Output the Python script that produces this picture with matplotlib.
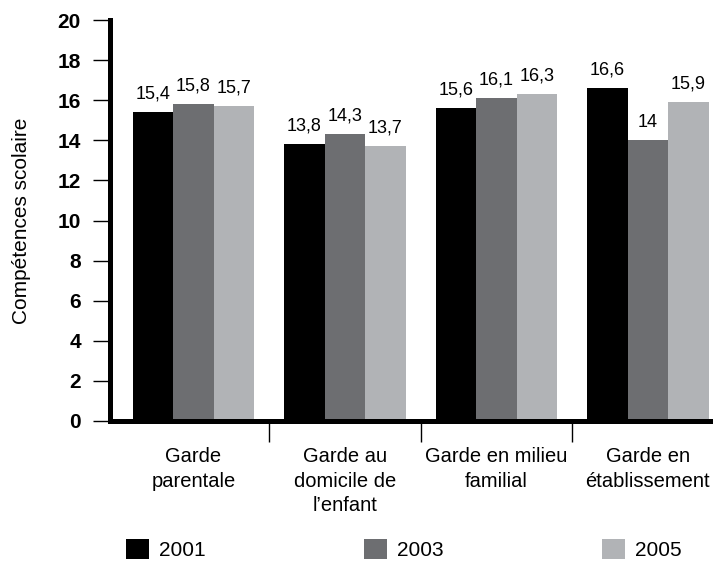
import numpy as np
import matplotlib
matplotlib.use('Agg')
import matplotlib.pyplot as plt

plt.rcParams['font.family'] = ['Liberation Sans', 'DejaVu Sans']

categories = ['Garde\nparentale', 'Garde au\ndomicile de\nl\u2019enfant',
              'Garde en milieu\nfamilial', 'Garde en\n\u00e9tablissement']
years = ['2001', '2003', '2005']
v2001 = [15.4, 13.8, 15.6, 16.6]
v2003 = [15.8, 14.3, 16.1, 14.0]
v2005 = [15.7, 13.7, 16.3, 15.9]
yticks = [0, 2, 4, 6, 8, 10, 12, 14, 16, 18, 20]

colors = ['#000000', '#6d6e71', '#b1b3b6']

fig = plt.figure(figsize=(7.13, 5.61), dpi=100)
ax = fig.add_axes([110/713, 1-421/561, 603/713, 401/561])

x = np.arange(len(categories))
w = 0.267
bars = []
for i, (vals, c, lab) in enumerate(zip([v2001, v2003, v2005], colors, years)):
    b = ax.bar(x + (i-1)*w, vals, w, color=c, label=lab, zorder=1)
    ax.bar_label(b, labels=[f'{v:g}'.replace('.', ',') for v in vals],
                 padding=7, fontsize=13)
    bars.append(b)

ax.set_xlim(-0.55, 3.43)
ax.set_ylim(0, 20)
ax.set_yticks(yticks)
ax.set_yticklabels([str(t) for t in yticks], fontweight='bold', fontsize=15)
ax.set_xticks(x)
ax.set_xticklabels(categories, fontsize=14.5, linespacing=1.35)
ax.set_xticks([0.5, 1.5, 2.5], minor=True)

ax.tick_params(axis='y', length=12.5, width=1, pad=8.5)
ax.tick_params(axis='x', which='major', length=0, pad=19)
ax.tick_params(axis='x', which='minor', length=15, width=1)

for s in ['top', 'right']:
    ax.spines[s].set_visible(False)
ax.spines['left'].set_linewidth(3.6)
ax.spines['bottom'].set_linewidth(3.6)

ax.set_ylabel('Comp\u00e9tences scolaire', fontsize=15)
ax.yaxis.set_label_coords(-0.131, 0.5)

fig.legend(handles=bars, labels=years, loc='center', bbox_to_anchor=(0.566, 0.02),
           ncol=3, frameon=False, fontsize=15, handlelength=1.1, handleheight=1.1,
           handletextpad=0.48, columnspacing=7.6, borderpad=0, borderaxespad=0)

fig.savefig('out.png', dpi=100)
